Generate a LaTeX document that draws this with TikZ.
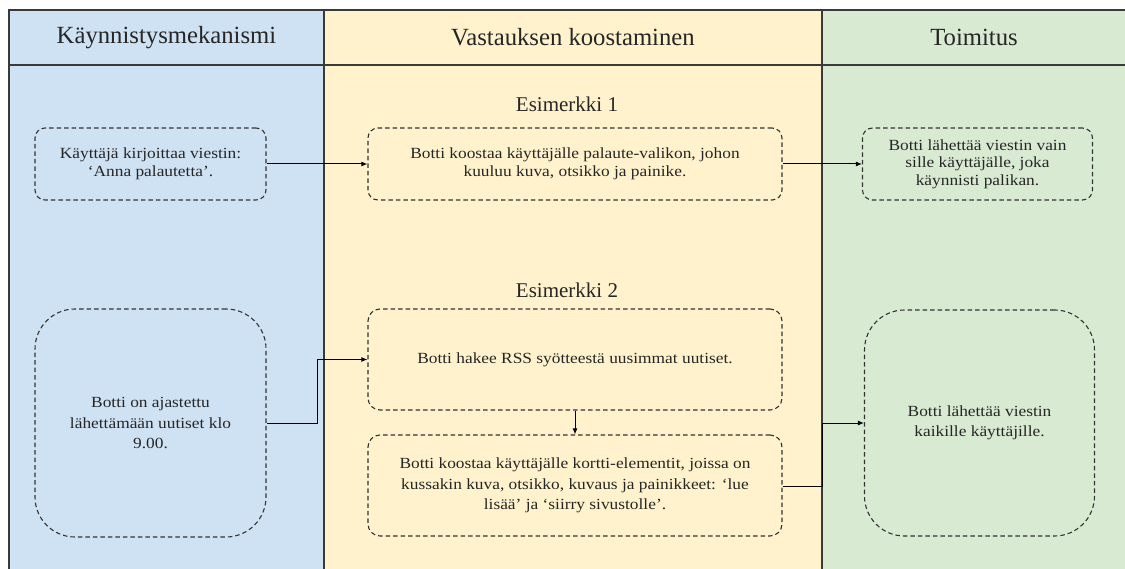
\documentclass[tikz,border=0pt]{standalone}
\usepackage{fontspec}
\setmainfont{Liberation Serif}
\newfontfamily\boxfont[FakeStretch=1.12]{Liberation Serif}
\usetikzlibrary{arrows.meta,calc}
\definecolor{lblue}{HTML}{CFE2F3}
\definecolor{lyellow}{HTML}{FFF2CC}
\definecolor{lgreen}{HTML}{D9EAD3}
\definecolor{framec}{HTML}{3A3A3A}
\definecolor{dashc}{HTML}{333333}
\definecolor{txtc}{HTML}{262626}
\tikzset{
  stepbox/.style={draw=dashc, line width=1.1pt, dash pattern=on 4.5pt off 3pt,
    rounded corners=#1, align=center, text=txtc, inner sep=0pt,
    font=\boxfont\fontsize{15.5}{17.5}\selectfont},
  stepbox/.default=10pt,
  widelines/.style={font=\boxfont\fontsize{15.5}{20.5}\selectfont},
  conn/.style={draw=black, line width=1pt, -{Latex[length=6pt,width=5pt]}},
  headtxt/.style={text=txtc, font=\fontsize{24.7}{28}\selectfont},
  extxt/.style={text=txtc, font=\fontsize{21}{24}\selectfont},
}
\begin{document}
\begin{tikzpicture}[x=1pt,y=-1pt]
\useasboundingbox (0,0) rectangle (1125,569);
\begin{scope}
\clip (0,0) rectangle (1125,569);
\fill[lblue] (9,10) rectangle (324,580);
\fill[lyellow] (324,10) rectangle (822,580);
\fill[lgreen] (822,10) rectangle (1127,580);
\draw[framec, line width=1.5pt] (9,580) -- (9,10) -- (1127,10);
\draw[framec, line width=1.5pt] (9,65) -- (1127,65);
\draw[framec, line width=1.5pt] (324,10) -- (324,580);
\draw[framec, line width=1.5pt] (822,10) -- (822,580);
\draw[framec, line width=1.5pt] (1126.5,10) -- (1126.5,580);
\end{scope}

\node[headtxt] (h1) at (166.5,37.5) {Käynnistysmekanismi};
\node[headtxt] (h2) at (573,37.5) {Vastauksen koostaminen};
\node[headtxt] (h3) at (974,37.5) {Toimitus};

\node[extxt] (ex1) at (567,104) {Esimerkki 1};
\node[extxt] (ex2) at (567,290) {Esimerkki 2};

\node[stepbox, minimum width=231pt, minimum height=72pt] (a) at (150.5,164)
  {Käyttäjä kirjoittaa viestin:\\‘Anna palautetta’.};
\node[stepbox, minimum width=414pt, minimum height=72pt] (b) at (575,164)
  {Botti koostaa käyttäjälle palaute-valikon, johon\\kuuluu kuva, otsikko ja painike.};
\node[stepbox, minimum width=230pt, minimum height=72pt] (c) at (977.5,164)
  {Botti lähettää viestin vain\\sille käyttäjälle, joka\\käynnisti palikan.};

\node[stepbox=40pt, widelines, minimum width=231pt, minimum height=228pt] (d) at (150.5,423)
  {Botti on ajastettu\\lähettämään uutiset klo\\9.00.};
\node[stepbox=12pt, minimum width=414pt, minimum height=101pt] (e) at (575,359.5)
  {Botti hakee RSS syötteestä uusimmat uutiset.};
\node[stepbox=12pt, widelines, minimum width=414pt, minimum height=101pt] (f) at (575,485.5)
  {Botti koostaa käyttäjälle kortti-elementit, joissa on\\kussakin kuva, otsikko, kuvaus ja painikkeet: ‘lue\\lisää’ ja ‘siirry sivustolle’.};
\node[stepbox=40pt, widelines, minimum width=230pt, minimum height=226pt] (g) at (979.5,423)
  {Botti lähettää viestin\\kaikille käyttäjille.};

\coordinate (k1) at (317,0);
\coordinate (k2) at (822,0);
\draw[conn] (a.east) -- (b.west);
\draw[conn] (b.east) -- (c.west);
\draw[conn] (d.east) -- (d.east -| k1) |- (e.west);
\draw[conn] (e.south) -- (f.north);
\draw[conn] ($(f.east)+(0,0.5)$) -- ($(f.east -| k2)+(0,0.5)$) |- (g.west);
\end{tikzpicture}
\end{document}
